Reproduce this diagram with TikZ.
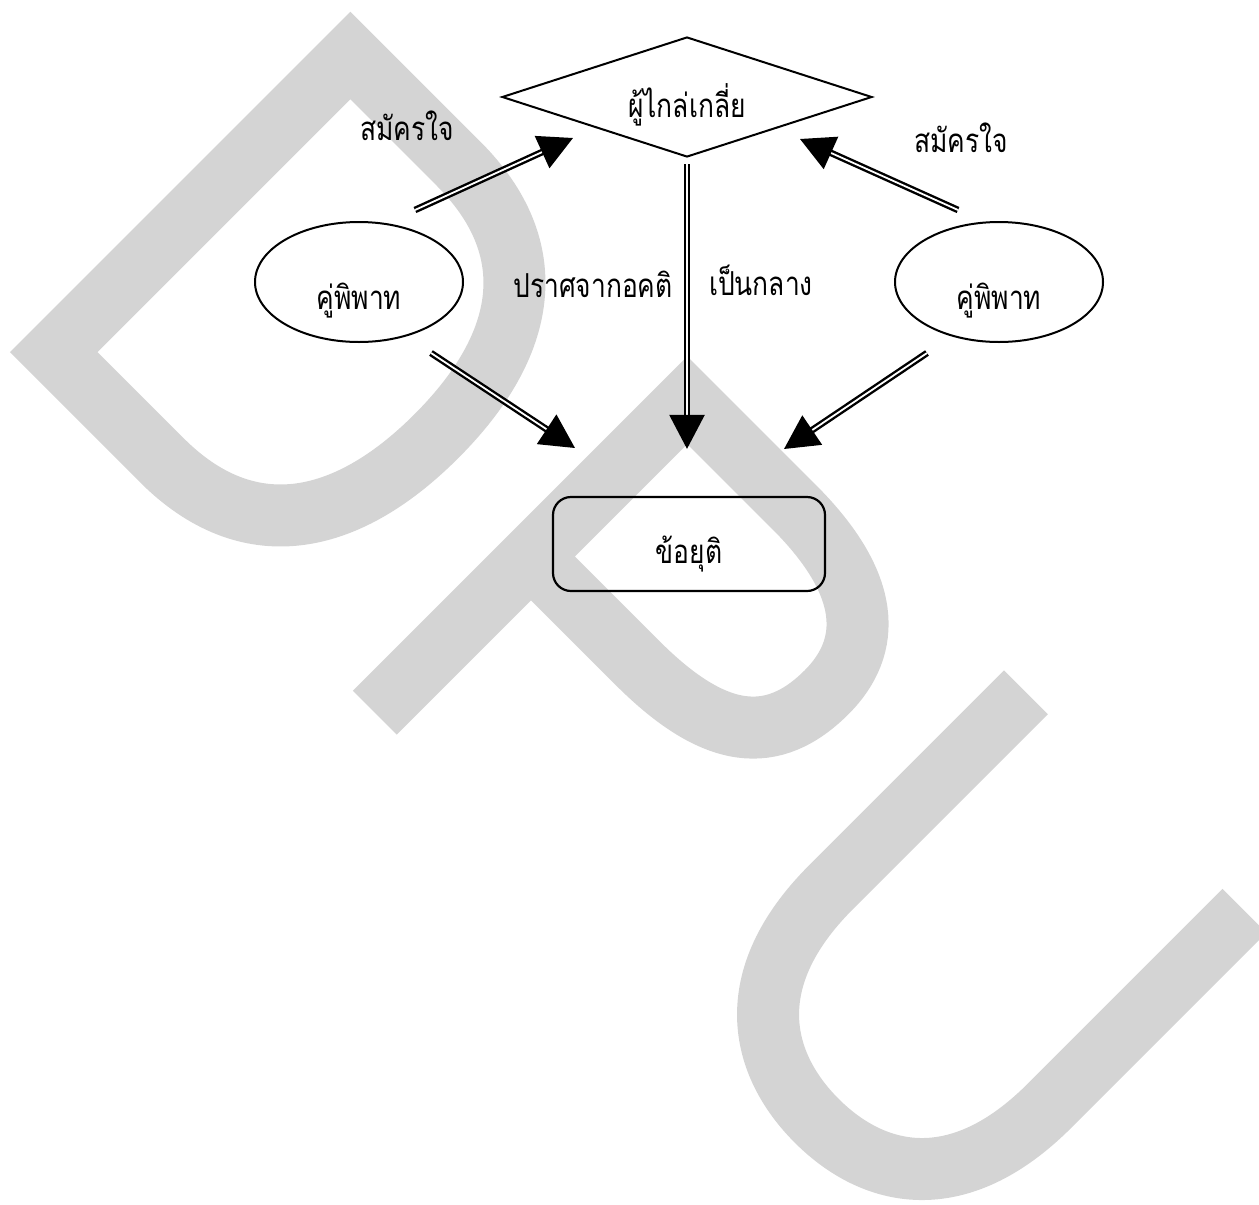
\documentclass[tikz,border=0pt]{standalone}
\usepackage{fontspec}
\newfontfamily\thaifont[Script=Thai, FakeStretch=0.8]{Loma}
\usetikzlibrary{arrows.meta, shapes.geometric}
\definecolor{wmark}{RGB}{212,212,212}

\begin{document}
\begin{tikzpicture}[x=0.5pt, y=-0.5pt,
  every node/.style={font=\thaifont\fontsize{16.5}{19}\selectfont},
  party/.style={ellipse, draw, line width=1pt, minimum width=104pt, minimum height=60pt, inner sep=0pt, text height=27pt, text depth=0pt},
  judge/.style={diamond, draw, line width=1pt, shape aspect=3, minimum width=185pt, minimum height=60pt, inner sep=0pt, text height=20pt, text depth=0pt},
  result/.style={rectangle, draw, line width=1.1pt, rounded corners=9pt, minimum width=136pt, minimum height=47pt, inner sep=0pt, text height=19pt, text depth=0pt},
  dbl/.style={line width=1.2pt, double, double distance=0.9pt, -{Triangle[length=17pt, width=17.5pt]}}]
\useasboundingbox (0,0) rectangle (1259,1205);
% watermark DPU
\begin{scope}
\clip (0,0) rectangle (1259,1205);
\begin{scope}[x={(0.35355pt,-0.35355pt)}, y={(0.35355pt,0.35355pt)}, draw=wmark, line width=31pt]
\draw (287,-211) -- (287,208.5) -- (440,208.5) .. controls (560,208.5) and (617,130) .. (617,0) .. controls (617,-130) and (560,-211) .. (440,-211) -- cycle;
\draw (769,-239) -- (769,203) -- (920,203) .. controls (1030,203) and (1074,160) .. (1074,95) .. controls (1074,20) and (1030,-18) .. (920,-18) -- (769,-18);
\draw (1215,236) -- (1215,-40) .. controls (1215,-170) and (1290,-215) .. (1370,-215) .. controls (1450,-215) and (1524,-170) .. (1524,-40) -- (1524,236);
\end{scope}
\end{scope}

\node[judge] (M) at (687,97) {ผู้ไกล่เกลี่ย};
\node[party] (L) at (359,282) {คู่พิพาท};
\node[party] (R) at (999,282) {คู่พิพาท};
\node[result] (K) at (689,544) {ข้อยุติ};

\node[anchor=base] (volL) at (407,140) {สมัครใจ};
\node[anchor=base] (volR) at (961,152) {สมัครใจ};
\node[anchor=base] (fair) at (593,297) {ปราศจากอคติ};
\node[anchor=base] (neut) at (761,295) {เป็นกลาง};

\coordinate (L-a) at (415,210);
\coordinate (M-a) at (573,138);
\coordinate (R-a) at (958,210);
\coordinate (M-b) at (800,139);
\coordinate (L-b) at (431,353);
\coordinate (K-a) at (575,448);
\coordinate (R-b) at (927,353);
\coordinate (K-b) at (784,449);

\draw[dbl] (L-a) -- (M-a);
\draw[dbl] (R-a) -- (M-b);
\draw[dbl] (L-b) -- (K-a);
\draw[dbl] (R-b) -- (K-b);
\draw[dbl, shorten <=3pt, shorten >=23.5pt] (M.south) -- (M.south |- K.north);
\end{tikzpicture}
\end{document}
